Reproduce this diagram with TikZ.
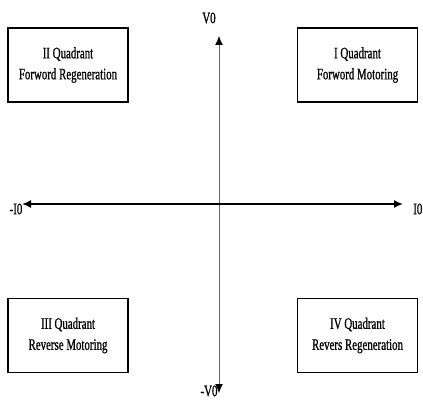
\documentclass[tikz,border=0pt]{standalone}
\usepackage{fontspec}
\usetikzlibrary{arrows.meta}
\setmainfont{Liberation Serif}
\newfontfamily\estrecha[FakeStretch=0.68, FakeBold=0.8]{Liberation Serif}
\begin{document}
\begin{tikzpicture}[x=1pt, y=-1pt, >={Latex[length=9pt, width=8pt, color=black]}, semithick,
    cuadro/.style={draw, line width=1.6pt, minimum width=120pt, minimum height=74pt,
      align=center, font=\estrecha\fontsize{16}{21}\selectfont},
    etiqueta/.style={inner sep=0pt, font=\estrecha\fontsize{16}{18}\selectfont}]
        \useasboundingbox (0,0) rectangle (423,403);

        % Cuadros de los cuatro cuadrantes
        \node[cuadro] (q2) at (68,65) {II Quadrant\\Forword Regeneration};
        \node[cuadro] (q1) at (357.5,65) {I Quadrant\\Forword Motoring};
        \node[cuadro] (q3) at (68,335.5) {III Quadrant\\Reverse Motoring};
        \node[cuadro] (q4) at (357.5,335.5) {IV Quadrant\\Revers Regeneration};

        % Extremos de los ejes
        \coordinate (arriba) at (219,36);
        \coordinate (abajo) at (219,393);
        \coordinate (izq) at (22,204);
        \coordinate (der) at (403,204);

        % Ejes de tension y corriente
        \draw[<->, black!60, line width=1pt] (abajo) -- (arriba);
        \draw[<->, line width=1.6pt] (izq) -- (der);

        % Etiquetas de los ejes
        \node[etiqueta] (v0) at (209,18) {V0};
        \node[etiqueta] (mv0) at (209,391) {-V0};
        \node[etiqueta] (mi0) at (16,209) {-I0};
        \node[etiqueta, anchor=west] (i0) at (413,209) {I0};
    \end{tikzpicture}
\end{document}
